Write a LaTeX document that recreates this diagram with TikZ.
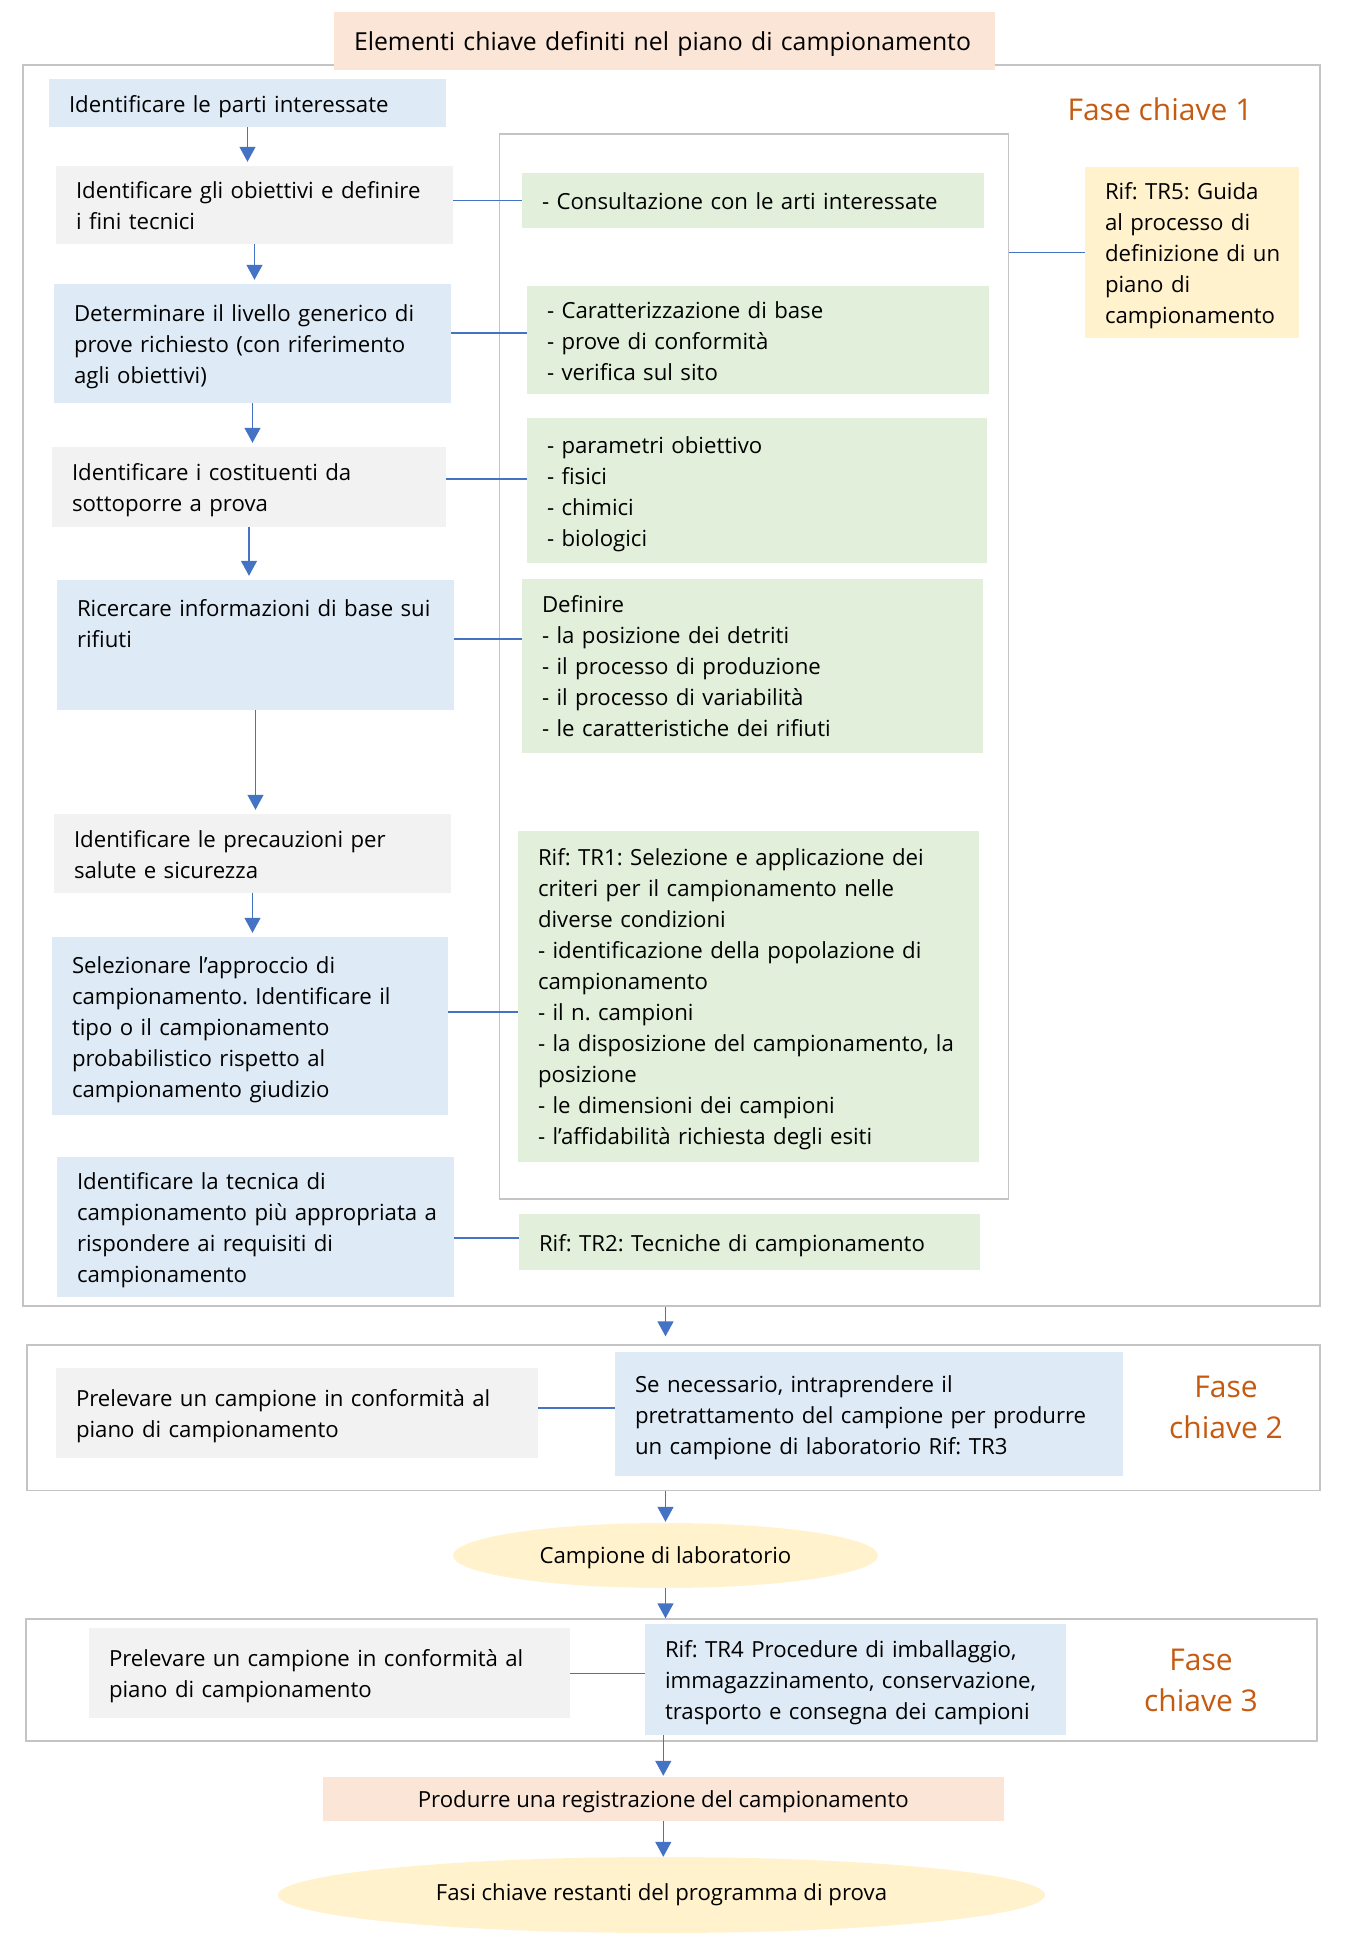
\documentclass[tikz,border=0pt]{standalone}
\usepackage{fontspec}
\setmainfont{Open Sans}
\usetikzlibrary{arrows.meta,shapes.geometric}
\definecolor{blueF}{HTML}{DEEBF7}
\definecolor{grayF}{HTML}{F2F2F2}
\definecolor{greenF}{HTML}{E2EFDA}
\definecolor{yellowF}{HTML}{FFF2CC}
\definecolor{pinkF}{HTML}{FBE5D6}
\definecolor{arrowC}{HTML}{4472C4}
\definecolor{frameC}{HTML}{C4C4C4}
\definecolor{orangeC}{HTML}{C55A11}
\frenchspacing
\newcommand\ls[1]{\begin{tabular}{@{}l@{}}\rule{0pt}{27.7pt}#1\end{tabular}}
\begin{document}
\begin{tikzpicture}[x=1pt,y=-1pt,
  font=\fontsize{22.2}{31}\selectfont,
  bx/.style n args={3}{rectangle, fill=#1, inner xsep=20pt, inner ysep=0pt,
     minimum width=#2pt, minimum height=#3pt, text width=#2pt-40pt},
  frame/.style={rectangle, draw=frameC, line width=1.3pt, inner sep=0pt},
  conn/.style={draw=arrowC, line width=1.3pt},
  arr/.style={draw=arrowC, line width=1.3pt, -{Triangle[width=16pt,length=15pt]}, shorten >=4pt},
  fase/.style={text=orangeC, font=\fontsize{30}{41}\selectfont, align=center, inner sep=0pt}]
\useasboundingbox (0,0) rectangle (1360,1938);

% frames
\node[frame, minimum width=1297pt, minimum height=1241pt] (F1) at (671.5,685.5) {};
\node[frame, minimum width=509pt, minimum height=1065pt] (IN) at (754,666.5) {};
\node[frame, minimum width=1293pt, minimum height=145.5pt] (F2) at (673.5,1417.75) {};
\node[frame, minimum width=1291pt, minimum height=122pt] (F3) at (671.5,1680) {};

% title
\node[rectangle, fill=pinkF, minimum width=661pt, minimum height=58pt, inner xsep=20pt, inner ysep=0pt,
  text width=621pt, text depth=0pt, font=\fontsize{24.8}{31}\selectfont] (T) at (664.5,41)
  {\mbox{Elementi chiave definiti nel piano di campionamento}};

% phase labels
\node[fase] (L1) at (1160,109) {Fase chiave 1};
\node[fase] (L2) at (1226,1407.7) {Fase\\chiave 2};
\node[fase] (L3) at (1201,1680.2) {Fase\\chiave 3};

% left column
\node[bx={blueF}{397}{48}] (B1) at (247.5,103) {\ls{Identificare le parti interessate}};
\node[bx={grayF}{397}{78}] (B2) at (254.5,205) {\ls{Identificare gli obiettivi e definire\\i fini tecnici}};
\node[bx={blueF}{397}{119}] (B3) at (252.5,343.5) {\ls{Determinare il livello generico di\\prove richiesto (con riferimento\\agli obiettivi)}};
\node[bx={grayF}{394}{80}] (B4) at (249,487) {\ls{Identificare i costituenti da\\sottoporre a prova}};
\node[bx={blueF}{397}{130}] (B5) at (255.5,645) {\ls{Ricercare informazioni di base sui\\rifiuti\\[44pt]}};
\node[bx={grayF}{397}{79}] (B6) at (252.5,853.5) {\ls{Identificare le precauzioni per\\salute e sicurezza}};
\node[bx={blueF}{396}{178}] (B7) at (250,1026) {\ls{Selezionare l’approccio di\\campionamento. Identificare il\\tipo o il campionamento\\probabilistico rispetto al\\campionamento giudizio}};
\node[bx={blueF}{397}{140}] (B8) at (255.5,1227) {\ls{Identificare la tecnica di\\campionamento più appropriata a\\rispondere ai requisiti di\\campionamento}};

% green column
\node[bx={greenF}{462}{55}] (G1) at (753,200.5) {\ls{- Consultazione con le arti interessate}};
\node[bx={greenF}{462}{108}] (G2) at (758,340) {\ls{- Caratterizzazione di base\\- prove di conformità\\- verifica sul sito}};
\node[bx={greenF}{460}{145}] (G3) at (757,490.5) {\ls{- parametri obiettivo\\- fisici\\- chimici\\- biologici}};
\node[bx={greenF}{461}{173.5}] (G4) at (752.5,665.75) {\ls{Definire\\- la posizione dei detriti\\- il processo di produzione\\- il processo di variabilità\\- le caratteristiche dei rifiuti}};
\node[bx={greenF}{461}{331}] (G5) at (748.5,996) {\ls{Rif: TR1: Selezione e applicazione dei\\criteri per il campionamento nelle\\diverse condizioni\\- identificazione della popolazione di\\campionamento\\- il n. campioni\\- la disposizione del campionamento, la\\posizione\\- le dimensioni dei campioni\\- l’affidabilità richiesta degli esiti}};
\node[bx={greenF}{461}{56}] (G6) at (749.5,1242) {\ls{Rif: TR2: Tecniche di campionamento}};

% TR5
\node[bx={yellowF}{213.5}{171}] (Y1) at (1191.75,252.5) {\ls{Rif: TR5: Guida\\al processo di\\definizione di un\\piano di\\campionamento}};

% phase 2
\node[bx={grayF}{482}{90}] (P1) at (297,1413) {\ls{Prelevare un campione in conformità al\\piano di campionamento}};
\node[bx={blueF}{508}{124}] (S2) at (869,1414) {\ls{Se necessario, intraprendere il\\pretrattamento del campione per produrre\\un campione di laboratorio Rif: TR3}};
\node[ellipse, fill=yellowF, minimum width=425pt, minimum height=65pt, inner sep=0pt, text depth=0pt] (E1) at (665.5,1555.5) {Campione di laboratorio};

% phase 3
\node[bx={grayF}{481}{89.5}] (P2) at (329.5,1672.75) {\ls{Prelevare un campione in conformità al\\piano di campionamento}};
\node[bx={blueF}{421}{111}] (R4) at (855.5,1679.5) {\ls{Rif: TR4 Procedure di imballaggio,\\immagazzinamento, conservazione,\\trasporto e consegna dei campioni}};

\node[rectangle, fill=pinkF, minimum width=681pt, minimum height=44pt, inner sep=0pt, text depth=0pt] (PK) at (663.3,1799) {Produrre una registrazione del campionamento};
\node[ellipse, fill=yellowF, minimum width=767pt, minimum height=76pt, inner sep=0pt] (E2) at (661.5,1895) {Fasi chiave restanti del programma di prova};

% connectors
\draw[conn] (G1.west) -- (G1.west -| B2.east);
\draw[conn] ([yshift=7pt]G2.west) -- ([yshift=7pt]G2.west -| B3.east);
\draw[conn] ([yshift=11.5pt]G3.west) -- ([yshift=11.5pt]G3.west -| B4.east);
\draw[conn] ([yshift=26.75pt]G4.west) -- ([yshift=26.75pt]G4.west -| B5.east);
\draw[conn] ([yshift=-16pt]G5.west) -- ([yshift=-16pt]G5.west -| B7.east);
\draw[conn] ([yshift=4pt]G6.west) -- ([yshift=4pt]G6.west -| B8.east);
\draw[conn] (Y1.west) -- (Y1.west -| IN.east);
\draw[conn] ([yshift=6pt]S2.west) -- ([yshift=6pt]S2.west -| P1.east);
\draw[conn] ([yshift=6pt]R4.west) -- ([yshift=6pt]R4.west -| P2.east);

% arrows
\draw[arr] (B1.south) -- (B1.south |- B2.north);
\draw[arr] (B2.south) -- (B2.south |- B3.north);
\draw[arr] (B3.south) -- (B3.south |- B4.north);
\draw[arr] (B4.south) -- (B4.south |- B5.north);
\draw[arr] (B5.south) -- (B5.south |- B6.north);
\draw[arr] (B6.south) -- (B6.south |- B7.north);
\draw[arr, shorten >=8pt] (F1.south -| E1) -- (F2.north -| E1);
\draw[arr, shorten >=1pt] (F2.south -| E1) -- (E1.north);
\draw[arr, shorten >=0pt] (E1.south) -- (F3.north -| E1);
\draw[arr, shorten >=1pt] (R4.south -| PK) -- (PK.north);
\draw[arr, shorten >=0pt] (PK.south) -- (PK.south |- E2.north);
\end{tikzpicture}
\end{document}
